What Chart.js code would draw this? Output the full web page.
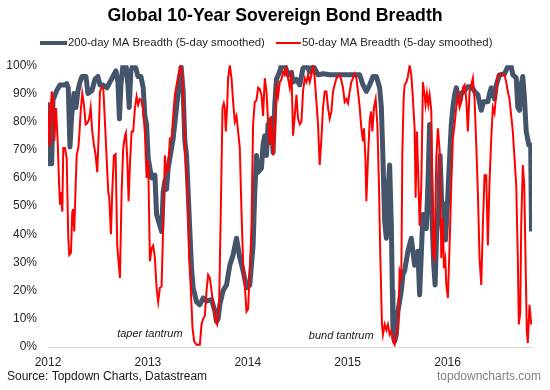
<!DOCTYPE html>
<html>
<head>
<meta charset="utf-8">
<script src="https://cdn.jsdelivr.net/npm/chart.js@4"></script>
<style>
  html, body { margin: 0; padding: 0; background: #fff; }
  #wrap { width: 550px; height: 390px; position: relative; }
</style>
</head>
<body>
<div id="wrap"><canvas id="chart"></canvas></div>
<script>
// ===== DATA (decimal years, % of bonds above MA) =====
const yearTicks = [2012, 2013, 2014, 2015, 2016];

const ma200Dates = [
  2012.000, 2012.010, 2012.037, 2012.050, 2012.087, 2012.120, 2012.170, 2012.187, 2012.203, 2012.220,
  2012.237, 2012.260, 2012.280, 2012.300, 2012.320, 2012.340, 2012.380, 2012.400, 2012.440, 2012.470,
  2012.500, 2012.520, 2012.550, 2012.590, 2012.620, 2012.650, 2012.680, 2012.700, 2012.715, 2012.730,
  2012.750, 2012.780, 2012.800, 2012.813, 2012.830, 2012.850, 2012.880, 2012.900, 2012.930, 2012.953,
  2012.970, 2012.987, 2013.003, 2013.037, 2013.070, 2013.087, 2013.120, 2013.137, 2013.153, 2013.170,
  2013.187, 2013.203, 2013.237, 2013.253, 2013.287, 2013.313, 2013.333, 2013.353, 2013.370, 2013.387,
  2013.403, 2013.420, 2013.437, 2013.453, 2013.487, 2013.520, 2013.553, 2013.587, 2013.637, 2013.670,
  2013.687, 2013.703, 2013.720, 2013.753, 2013.787, 2013.820, 2013.853, 2013.887, 2013.920, 2013.953,
  2013.987, 2014.020, 2014.053, 2014.070, 2014.087, 2014.103, 2014.137, 2014.153, 2014.170, 2014.187,
  2014.203, 2014.237, 2014.253, 2014.270, 2014.287, 2014.320, 2014.337, 2014.370, 2014.403, 2014.437,
  2014.453, 2014.487, 2014.520, 2014.553, 2014.587, 2014.620, 2014.653, 2014.703, 2014.753, 2014.820,
  2014.970, 2015.120, 2015.153, 2015.187, 2015.220, 2015.253, 2015.287, 2015.320, 2015.337, 2015.353,
  2015.370, 2015.387, 2015.403, 2015.420, 2015.437, 2015.447, 2015.453, 2015.470, 2015.487, 2015.503,
  2015.537, 2015.553, 2015.570, 2015.603, 2015.637, 2015.670, 2015.703, 2015.720, 2015.753, 2015.787,
  2015.803, 2015.820, 2015.840, 2015.860, 2015.875, 2015.890, 2015.910, 2015.925, 2015.940, 2015.960,
  2015.980, 2016.000, 2016.020, 2016.037, 2016.053, 2016.070, 2016.087, 2016.100, 2016.120, 2016.140,
  2016.170, 2016.203, 2016.240, 2016.270, 2016.303, 2016.337, 2016.360, 2016.403, 2016.420, 2016.437,
  2016.470, 2016.487, 2016.520, 2016.570, 2016.603, 2016.637, 2016.653, 2016.687, 2016.703, 2016.720,
  2016.737, 2016.753, 2016.770, 2016.787, 2016.813, 2016.832, 2016.840
];
const ma200Values = [
  86, 65, 65, 87.6, 91, 93, 93, 93.5, 92, 71,
  82, 90, 85, 91, 94, 96, 96, 90, 91, 95,
  96, 93, 93, 92, 94, 96, 98, 94, 81, 93,
  100, 100, 93, 85, 98, 100, 99, 96, 96, 92,
  82, 79, 67, 60, 61, 47, 43, 41, 55, 59,
  56, 63.5, 70.6, 74, 85, 94, 99.5, 90.7, 73, 68,
  55, 41, 28, 21, 16, 15, 17.4, 16.3, 16.8, 12.8,
  9, 10, 15, 20, 22, 29, 32.7, 38.6, 31.6, 27,
  21, 22, 36, 55, 68, 62, 63.5, 72, 75, 68,
  79, 81, 69, 86, 95, 97.8, 100, 100, 96.6, 97.5,
  94, 95, 93, 99, 100, 97.6, 100, 96.6, 97, 96.6,
  96.6, 96.6, 93, 90.7, 93, 96, 96, 92, 85, 67,
  44.6, 38.6, 55, 64.6, 43, 20, 5.6, 2, 4.4, 12.6,
  20, 25.6, 27, 34, 38.6, 29, 34, 18.5, 47, 42,
  57.5, 79, 50, 30, 22, 40, 48, 68, 52, 50,
  38, 52, 67, 79, 85, 89.5, 92, 90, 87, 90,
  91, 92.4, 92.4, 90.7, 89.5, 84, 87, 87, 90, 92,
  88, 93, 96.6, 97, 99.5, 99.5, 96.6, 95.5, 85, 84,
  93, 96, 88, 76.5, 71.7, 71.7, 41
];

const ma50Dates = [
  2012.000, 2012.013, 2012.020, 2012.037, 2012.053, 2012.063, 2012.080, 2012.097, 2012.110, 2012.120,
  2012.130, 2012.143, 2012.153, 2012.170, 2012.187, 2012.203, 2012.213, 2012.230, 2012.243, 2012.250,
  2012.263, 2012.277, 2012.287, 2012.303, 2012.313, 2012.327, 2012.343, 2012.360, 2012.377, 2012.393,
  2012.410, 2012.427, 2012.443, 2012.460, 2012.477, 2012.493, 2012.510, 2012.520, 2012.537, 2012.553,
  2012.570, 2012.587, 2012.603, 2012.613, 2012.630, 2012.643, 2012.660, 2012.677, 2012.693, 2012.720,
  2012.737, 2012.753, 2012.770, 2012.780, 2012.793, 2012.807, 2012.820, 2012.837, 2012.853, 2012.870,
  2012.887, 2012.903, 2012.920, 2012.937, 2012.953, 2012.970, 2012.987, 2013.003, 2013.020, 2013.037,
  2013.053, 2013.070, 2013.087, 2013.103, 2013.120, 2013.137, 2013.153, 2013.170, 2013.187, 2013.203,
  2013.220, 2013.237, 2013.253, 2013.270, 2013.287, 2013.313, 2013.330, 2013.347, 2013.363, 2013.380,
  2013.397, 2013.413, 2013.430, 2013.447, 2013.463, 2013.487, 2013.520, 2013.537, 2013.553, 2013.570,
  2013.587, 2013.603, 2013.620, 2013.637, 2013.653, 2013.680, 2013.693, 2013.713, 2013.730, 2013.747,
  2013.760, 2013.770, 2013.780, 2013.793, 2013.803, 2013.820, 2013.837, 2013.853, 2013.870, 2013.887,
  2013.903, 2013.920, 2013.937, 2013.953, 2013.970, 2013.987, 2014.003, 2014.020, 2014.037, 2014.053,
  2014.070, 2014.087, 2014.103, 2014.120, 2014.137, 2014.153, 2014.170, 2014.187, 2014.203, 2014.220,
  2014.237, 2014.253, 2014.270, 2014.287, 2014.303, 2014.320, 2014.337, 2014.353, 2014.370, 2014.387,
  2014.403, 2014.420, 2014.437, 2014.453, 2014.470, 2014.487, 2014.503, 2014.520, 2014.537, 2014.553,
  2014.570, 2014.587, 2014.603, 2014.620, 2014.637, 2014.653, 2014.670, 2014.687, 2014.703, 2014.720,
  2014.737, 2014.753, 2014.770, 2014.787, 2014.803, 2014.820, 2014.837, 2014.853, 2014.887, 2014.920,
  2014.937, 2014.953, 2014.970, 2014.987, 2015.003, 2015.020, 2015.037, 2015.070, 2015.087, 2015.103,
  2015.120, 2015.137, 2015.153, 2015.163, 2015.177, 2015.187, 2015.203, 2015.220, 2015.233, 2015.247,
  2015.263, 2015.280, 2015.297, 2015.313, 2015.327, 2015.343, 2015.353, 2015.370, 2015.387, 2015.403,
  2015.420, 2015.437, 2015.453, 2015.470, 2015.487, 2015.503, 2015.520, 2015.537, 2015.547, 2015.560,
  2015.570, 2015.587, 2015.603, 2015.620, 2015.637, 2015.653, 2015.670, 2015.680, 2015.693, 2015.707,
  2015.720, 2015.737, 2015.753, 2015.770, 2015.780, 2015.793, 2015.807, 2015.820, 2015.837, 2015.853,
  2015.870, 2015.887, 2015.903, 2015.920, 2015.930, 2015.937, 2015.953, 2015.963, 2015.977, 2015.987,
  2016.003, 2016.020, 2016.037, 2016.053, 2016.070, 2016.087, 2016.103, 2016.120, 2016.137, 2016.153,
  2016.170, 2016.187, 2016.203, 2016.220, 2016.237, 2016.253, 2016.270, 2016.287, 2016.303, 2016.320,
  2016.337, 2016.353, 2016.370, 2016.387, 2016.403, 2016.420, 2016.437, 2016.453, 2016.470, 2016.487,
  2016.503, 2016.537, 2016.570, 2016.587, 2016.603, 2016.620, 2016.637, 2016.653, 2016.670, 2016.687,
  2016.703, 2016.713, 2016.727, 2016.737, 2016.753, 2016.767, 2016.780, 2016.793, 2016.803, 2016.820,
  2016.837
];
const ma50Values = [
  86.5, 71.7, 76, 90.7, 87, 73, 84.8, 73, 58.7, 50.5,
  55, 48, 70.6, 70.6, 67, 38.6, 32.7, 33.5, 48, 49,
  41, 57.5, 68, 70.6, 75, 83.6, 90, 86, 79, 79.5,
  80.6, 85, 76.5, 71.7, 68, 62, 77.6, 90.7, 92, 92,
  80, 67, 55, 53, 40, 55, 68, 68.5, 36, 24.5,
  55, 70.6, 75, 76, 67, 51.7, 64.6, 76.5, 76.5, 84.8,
  89, 86, 88, 87.5, 83.6, 76, 60, 66, 30.4, 35,
  36, 31.6, 21, 16, 21, 21.5, 43, 68, 62, 63,
  74, 74, 82, 89.5, 93, 97.8, 100, 95.4, 79, 64.6,
  55, 31.6, 20, 6.7, 2, 0.8, 0.8, 8, 10, 11,
  20, 25.6, 24.5, 20, 15, 9, 8, 15, 49, 84.8,
  86.5, 84.8, 76.5, 84.8, 95.4, 100, 95.4, 87, 80, 82,
  76.5, 70.6, 48, 30, 22, 12.6, 13.5, 27, 43, 79,
  87, 87.5, 92, 91.5, 89.5, 82, 95.4, 90.7, 80, 71.7,
  82, 68, 75, 92, 89, 94, 95, 97.8, 96.6, 99,
  95.4, 92, 97.8, 75, 82, 89.5, 81, 79, 80, 90.7,
  95.4, 94, 96.6, 94, 96.6, 100, 95.4, 87, 79, 64.6,
  74, 85, 90.7, 90.7, 85, 81, 83.6, 90.7, 95.4, 96.6,
  94.5, 92, 87, 88, 86.5, 90.7, 94, 97, 95.4, 90.7,
  85, 77.6, 73, 77.6, 67, 51.7, 67, 80, 83.6, 76.5,
  85, 88, 79, 57.5, 31.6, 8, 4.4, 8, 6, 8,
  4.4, 5.6, 2, 0.8, 4.4, 7, 27, 25, 69, 88,
  93, 94, 96, 100, 96.6, 88, 77.6, 53, 76.5, 60,
  43, 57, 94, 89.5, 86, 90, 86, 89.5, 84, 34,
  30.4, 67, 77.6, 70, 52, 31.6, 45.7, 28, 31, 22,
  17.4, 36, 57.5, 74, 79, 85, 89.5, 85, 87, 92,
  93, 88, 76.5, 90.7, 93, 95.4, 88, 71.7, 55, 31.6,
  22, 43, 61, 61, 36, 58.7, 74, 85, 83, 90.7,
  96.6, 97, 96.6, 94, 90.7, 88, 82, 76.5, 67, 57.5,
  31.6, 8, 12, 43, 64.6, 58, 31.6, 5.6, 1.4, 15,
  8
];

const seriesLabels = ['200-day MA Breadth (5-day smoothed)', '50-day MA Breadth (5-day smoothed)'];
const seriesColors = ['#44546A', '#FF0000'];

const notes = [
  { text: 'taper tantrum', x: 2013.02, y: 4.6 },
  { text: 'bund tantrum', x: 2014.935, y: 3.9 }
];

Chart.defaults.font.family = "'Liberation Sans', Arial, sans-serif";
Chart.defaults.color = '#262626';

// legend drawn by hand so the line sits right against the text, Excel style
const lineLegend = {
  id: 'lineLegend',
  afterDraw(chart) {
    const {ctx} = chart;
    ctx.save();
    ctx.font = "11.4px 'Liberation Sans', Arial, sans-serif";
    ctx.textBaseline = 'middle';
    ctx.fillStyle = '#262626';
    let x = 40;
    const y = 43;
    chart.data.datasets.forEach((ds, i) => {
      const w = i === 0 ? 27 : 25;
      ctx.strokeStyle = ds.borderColor;
      ctx.lineWidth = i === 0 ? 4 : 2;
      ctx.beginPath();
      ctx.moveTo(x, y);
      ctx.lineTo(x + w, y);
      ctx.stroke();
      ctx.fillText(ds.label, x + w + 1, y);
      x += w + 1 + ctx.measureText(ds.label).width + 11;
    });
    ctx.restore();
  }
};

// annotations + source footer
const extraText = {
  id: 'extraText',
  afterDraw(chart) {
    const {ctx, scales: {x, y}} = chart;
    ctx.save();
    ctx.textBaseline = 'middle';
    ctx.textAlign = 'center';
    ctx.fillStyle = '#1a1a1a';
    ctx.font = "italic 11px 'Liberation Sans', Arial, sans-serif";
    notes.forEach(n => ctx.fillText(n.text, x.getPixelForValue(n.x), y.getPixelForValue(n.y)));

    ctx.font = "12px 'Liberation Sans', Arial, sans-serif";
    ctx.textAlign = 'left';
    ctx.fillStyle = '#1a1a1a';
    ctx.fillText('Source: Topdown Charts, Datastream', 7, 377);
    ctx.textAlign = 'right';
    ctx.fillStyle = '#7f7f7f';
    ctx.fillText('topdowncharts.com', 541, 377);
    ctx.restore();
  }
};

const toPts = (xs, ys) => xs.map((t, i) => ({x: t, y: ys[i]}));

new Chart(document.getElementById('chart'), {
  type: 'line',
  data: {
    datasets: [
      {
        label: seriesLabels[0],
        data: toPts(ma200Dates, ma200Values),
        borderColor: seriesColors[0],
        borderWidth: 5,
        borderJoinStyle: 'round',
        pointRadius: 0,
        tension: 0,
        order: 1
      },
      {
        label: seriesLabels[1],
        data: toPts(ma50Dates, ma50Values),
        borderColor: seriesColors[1],
        borderWidth: 2,
        pointRadius: 0,
        tension: 0,
        order: 0
      }
    ]
  },
  options: {
    responsive: true,
    maintainAspectRatio: false,
    animation: false,
    layout: { padding: 0 },
    plugins: {
      legend: { display: false },
      tooltip: { enabled: false },
      title: {
        display: true,
        text: 'Global 10-Year Sovereign Bond Breadth',
        color: '#000',
        font: { size: 17.7, weight: 'bold' },
        padding: { top: 5, bottom: 39 }
      }
    },
    scales: {
      x: {
        type: 'linear',
        min: 2012,
        max: 2016.845,
        grid: { display: false, drawTicks: false },
        border: { display: true, color: '#d9d9d9', width: 1 },
        afterBuildTicks: s => { s.ticks = yearTicks.map(v => ({value: v})); },
        afterFit: s => { s.height = 43; },
        ticks: {
          padding: 8,
          maxRotation: 0,
          font: { size: 12 },
          color: '#262626',
          callback: v => String(v)
        }
      },
      y: {
        min: 0,
        max: 100,
        grid: { display: false, drawTicks: false },
        border: { display: false },
        afterFit: s => { s.width = 48; },
        ticks: {
          stepSize: 10,
          padding: 11,
          font: { size: 12 },
          color: '#262626',
          callback: v => v + '%'
        }
      },
      // empty right-hand axis, only reserves the margin right of the plot
      yRight: {
        position: 'right',
        min: 0,
        max: 100,
        grid: { display: false, drawTicks: false },
        border: { display: false },
        ticks: { display: false },
        afterFit: s => { s.width = 18; }
      }
    }
  },
  plugins: [lineLegend, extraText]
});
</script>
</body>
</html>
